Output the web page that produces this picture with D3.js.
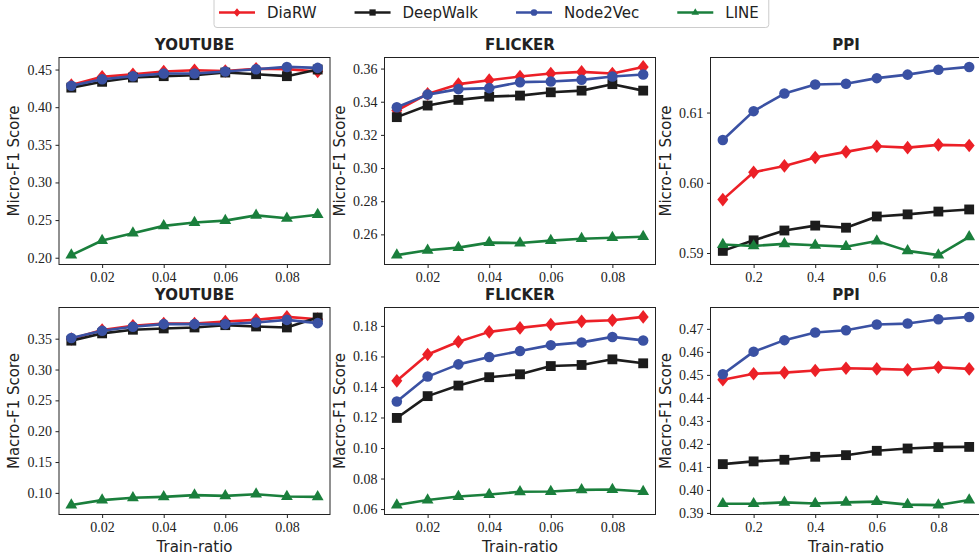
<!DOCTYPE html>
<html>
<head>
<meta charset="utf-8">
<script src="https://cdn.jsdelivr.net/npm/d3@7"></script>
<style>
  body { margin: 0; background: #fff; }
  svg { display: block; }
</style>
</head>
<body>
<svg id="chart" width="979" height="560"></svg>
<script>
// methods, in drawing order
var methods = ["DiaRW", "DeepWalk", "Node2Vec", "LINE"];
var colors = ["#ec2027", "#1c1c1c", "#3a51a3", "#1a7f3c"];
var shapes = ["diamond", "square", "circle", "triangle"];

// train ratios
var ratiosSmall = [0.01, 0.02, 0.03, 0.04, 0.05, 0.06, 0.07, 0.08, 0.09];
var ratiosPPI = [0.1, 0.2, 0.3, 0.4, 0.5, 0.6, 0.7, 0.8, 0.9];
var xTicksSmall = [0.02, 0.04, 0.06, 0.08];
var xTicksPPI = [0.2, 0.4, 0.6, 0.8];

// Micro-F1, rows follow `methods`
var youtubeMicro = [
  [0.4293, 0.4403, 0.4438, 0.4474, 0.4491, 0.4480, 0.4510, 0.4505, 0.4475],
  [0.4260, 0.4337, 0.4394, 0.4412, 0.4425, 0.4460, 0.4438, 0.4412, 0.4500],
  [0.4284, 0.4372, 0.4412, 0.4447, 0.4447, 0.4474, 0.4504, 0.4535, 0.4522],
  [0.2035, 0.2229, 0.2326, 0.2423, 0.2467, 0.2493, 0.2563, 0.2524, 0.2572]
];
var flickerMicro = [
  [0.3347, 0.3447, 0.3506, 0.3530, 0.3552, 0.3570, 0.3580, 0.3570, 0.3610],
  [0.3307, 0.3377, 0.3411, 0.3431, 0.3437, 0.3457, 0.3467, 0.3506, 0.3467],
  [0.3367, 0.3443, 0.3476, 0.3482, 0.3518, 0.3522, 0.3532, 0.3552, 0.3564],
  [0.2475, 0.2504, 0.2520, 0.2550, 0.2548, 0.2562, 0.2574, 0.2580, 0.2586]
];
var ppiMicro = [
  [0.5976, 0.6015, 0.6024, 0.6036, 0.6044, 0.6052, 0.6050, 0.6054, 0.6053],
  [0.5903, 0.5918, 0.5932, 0.5939, 0.5936, 0.5952, 0.5955, 0.5959, 0.5962],
  [0.6061, 0.6102, 0.6127, 0.6140, 0.6141, 0.6149, 0.6154, 0.6161, 0.6165],
  [0.5912, 0.5910, 0.5913, 0.5911, 0.5909, 0.5917, 0.5903, 0.5897, 0.5923]
];

// Macro-F1
var youtubeMacro = [
  [0.3495, 0.3639, 0.3709, 0.3746, 0.3746, 0.3778, 0.3805, 0.3853, 0.3816],
  [0.3468, 0.3586, 0.3645, 0.3666, 0.3682, 0.3719, 0.3698, 0.3682, 0.3843],
  [0.3511, 0.3628, 0.3693, 0.3736, 0.3736, 0.3736, 0.3762, 0.3805, 0.3752],
  [0.0802, 0.0882, 0.0920, 0.0936, 0.0963, 0.0952, 0.0979, 0.0941, 0.0936]
];
var flickerMacro = [
  [0.1440, 0.1613, 0.1696, 0.1761, 0.1787, 0.1809, 0.1830, 0.1837, 0.1859],
  [0.1197, 0.1340, 0.1409, 0.1464, 0.1483, 0.1537, 0.1544, 0.1581, 0.1555],
  [0.1305, 0.1468, 0.1548, 0.1596, 0.1635, 0.1674, 0.1692, 0.1728, 0.1705],
  [0.0626, 0.0659, 0.0682, 0.0695, 0.0713, 0.0715, 0.0726, 0.0728, 0.0715]
];
var ppiMacro = [
  [0.4479, 0.4505, 0.4510, 0.4519, 0.4529, 0.4526, 0.4522, 0.4533, 0.4526],
  [0.4112, 0.4124, 0.4131, 0.4144, 0.4151, 0.4170, 0.4180, 0.4186, 0.4187],
  [0.4503, 0.4601, 0.4651, 0.4684, 0.4694, 0.4719, 0.4723, 0.4742, 0.4752],
  [0.3940, 0.3940, 0.3946, 0.3941, 0.3946, 0.3949, 0.3936, 0.3934, 0.3956]
];

// y tick labels per panel
var ytMicroTicks = [0.20, 0.25, 0.30, 0.35, 0.40, 0.45];
var flMicroTicks = [0.26, 0.28, 0.30, 0.32, 0.34, 0.36];
var ppiMicroTicks = [0.59, 0.60, 0.61];
var ytMacroTicks = [0.10, 0.15, 0.20, 0.25, 0.30, 0.35];
var flMacroTicks = [0.06, 0.08, 0.10, 0.12, 0.14, 0.16, 0.18];
var ppiMacroTicks = [0.39, 0.40, 0.41, 0.42, 0.43, 0.44, 0.45, 0.46, 0.47];

var panels = [
  {title: "YOUTUBE", ylab: "Micro-F1 Score", xs: ratiosSmall, xt: xTicksSmall, data: youtubeMicro, yt: ytMicroTicks, col: 0, row: 0},
  {title: "FLICKER", ylab: "Micro-F1 Score", xs: ratiosSmall, xt: xTicksSmall, data: flickerMicro, yt: flMicroTicks, col: 1, row: 0},
  {title: "PPI", ylab: "Micro-F1 Score", xs: ratiosPPI, xt: xTicksPPI, data: ppiMicro, yt: ppiMicroTicks, col: 2, row: 0},
  {title: "YOUTUBE", ylab: "Macro-F1 Score", xs: ratiosSmall, xt: xTicksSmall, data: youtubeMacro, yt: ytMacroTicks, col: 0, row: 1},
  {title: "FLICKER", ylab: "Macro-F1 Score", xs: ratiosSmall, xt: xTicksSmall, data: flickerMacro, yt: flMacroTicks, col: 1, row: 1},
  {title: "PPI", ylab: "Macro-F1 Score", xs: ratiosPPI, xt: xTicksPPI, data: ppiMacro, yt: ppiMacroTicks, col: 2, row: 1}
];

var colLeft = [59, 384.5, 710.5];
var rowTop = [57.5, 307.5];
var pw = 271, ph = 207;

var svg = d3.select("#chart");

//matplotlib-like 5% padding
function padded(ext){
  var d = (ext[1] - ext[0]) * 0.05;
  return [ext[0] - d, ext[1] + d];
}

function markerPath(shape, s){
  if (shape == "diamond"){
    var w = s * 0.5, h = s * 0.62;
    return "M0," + (-h) + "L" + w + ",0L0," + h + "L" + (-w) + ",0Z";
  }
  if (shape == "square") return d3.symbol(d3.symbolSquare, s * s * 0.8)();
  if (shape == "circle") return d3.symbol(d3.symbolCircle, s * s * 0.72)();
  return d3.symbol(d3.symbolTriangle, s * s * 0.5)();
}

function styleAxis(ax){
  ax.attr("font-family", null).attr("font-size", null);
  ax.select(".domain").remove();
  ax.selectAll(".tick line").attr("stroke", "#222");
  ax.selectAll(".tick text")
    .style("font-family", "'Liberation Serif'")
    .style("font-size", "14px")
    .attr("fill", "#222");
}

panels.forEach(function(p){
  var x0 = colLeft[p.col], y0 = rowTop[p.row];
  var g = svg.append("g").attr("transform", "translate(" + x0 + "," + y0 + ")");

  var x = d3.scaleLinear().domain(padded(d3.extent(p.xs))).range([0, pw]);
  var y = d3.scaleLinear().domain(padded(d3.extent(d3.merge(p.data)))).range([ph, 0]);

  g.append("g").attr("transform", "translate(0," + ph + ")")
    .call(d3.axisBottom(x).tickValues(p.xt).tickFormat(d3.format(p.col == 2 ? ".1f" : ".2f")).tickSize(3.5).tickPadding(4))
    .call(styleAxis);
  g.append("g")
    .call(d3.axisLeft(y).tickValues(p.yt).tickFormat(d3.format(".2f")).tickSize(3.5).tickPadding(3.5))
    .call(styleAxis);

  var line = d3.line().x(function(d, i){ return x(p.xs[i]); }).y(function(d){ return y(d); });
  p.data.forEach(function(series, k){
    var sg = g.append("g");
    sg.append("path").datum(series)
      .attr("d", line)
      .attr("fill", "none")
      .attr("stroke", colors[k])
      .attr("stroke-width", 2.6)
      .attr("stroke-linejoin", "round");
    sg.selectAll("path.m").data(series).enter().append("path")
      .attr("class", "m")
      .attr("transform", function(d, i){ return "translate(" + x(p.xs[i]) + "," + y(d) + ")"; })
      .attr("d", markerPath(shapes[k], 11))
      .attr("fill", colors[k]);
  });

  g.append("rect").attr("width", pw).attr("height", ph)
    .attr("fill", "none").attr("stroke", "#222").attr("stroke-width", 1);

  svg.append("text")
    .attr("x", x0 + pw / 2).attr("y", y0 - 8)
    .attr("text-anchor", "middle")
    .style("font-family", "'DejaVu Sans'").style("font-weight", "bold").style("font-size", "15px")
    .attr("fill", "#222")
    .text(p.title);

  svg.append("text")
    .attr("transform", "translate(" + (x0 - 40) + "," + (y0 + ph / 2) + ") rotate(-90)")
    .attr("text-anchor", "middle")
    .style("font-family", "'DejaVu Sans'").style("font-size", "15px")
    .attr("fill", "#222")
    .text(p.ylab);

  if (p.row == 1){
    svg.append("text")
      .attr("x", x0 + pw / 2).attr("y", 552)
      .attr("text-anchor", "middle")
      .style("font-family", "'DejaVu Sans'").style("font-size", "15px")
      .attr("fill", "#222")
      .text("Train-ratio");
  }
});

// legend
var leg = svg.append("g");
var box = leg.append("rect").attr("x", 214).attr("y", -6).attr("height", 33.5)
  .attr("rx", 3).attr("fill", "#fff").attr("stroke", "#ccc").attr("stroke-width", 1);
var cx = 219;
methods.forEach(function(m, k){
  leg.append("line").attr("x1", cx).attr("x2", cx + 36).attr("y1", 12.5).attr("y2", 12.5)
    .attr("stroke", colors[k]).attr("stroke-width", 2.6);
  leg.append("path").attr("transform", "translate(" + (cx + 18) + ",12.5)")
    .attr("d", markerPath(shapes[k], 7)).attr("fill", colors[k]);
  var t = leg.append("text").attr("x", cx + 48).attr("y", 18)
    .style("font-family", "'DejaVu Sans'").style("font-size", "15px").attr("fill", "#222")
    .text(m);
  cx += 48 + t.node().getComputedTextLength() + (k < methods.length - 1 ? 38 : 10);
});
box.attr("width", cx - 214);
</script>
</body>
</html>
